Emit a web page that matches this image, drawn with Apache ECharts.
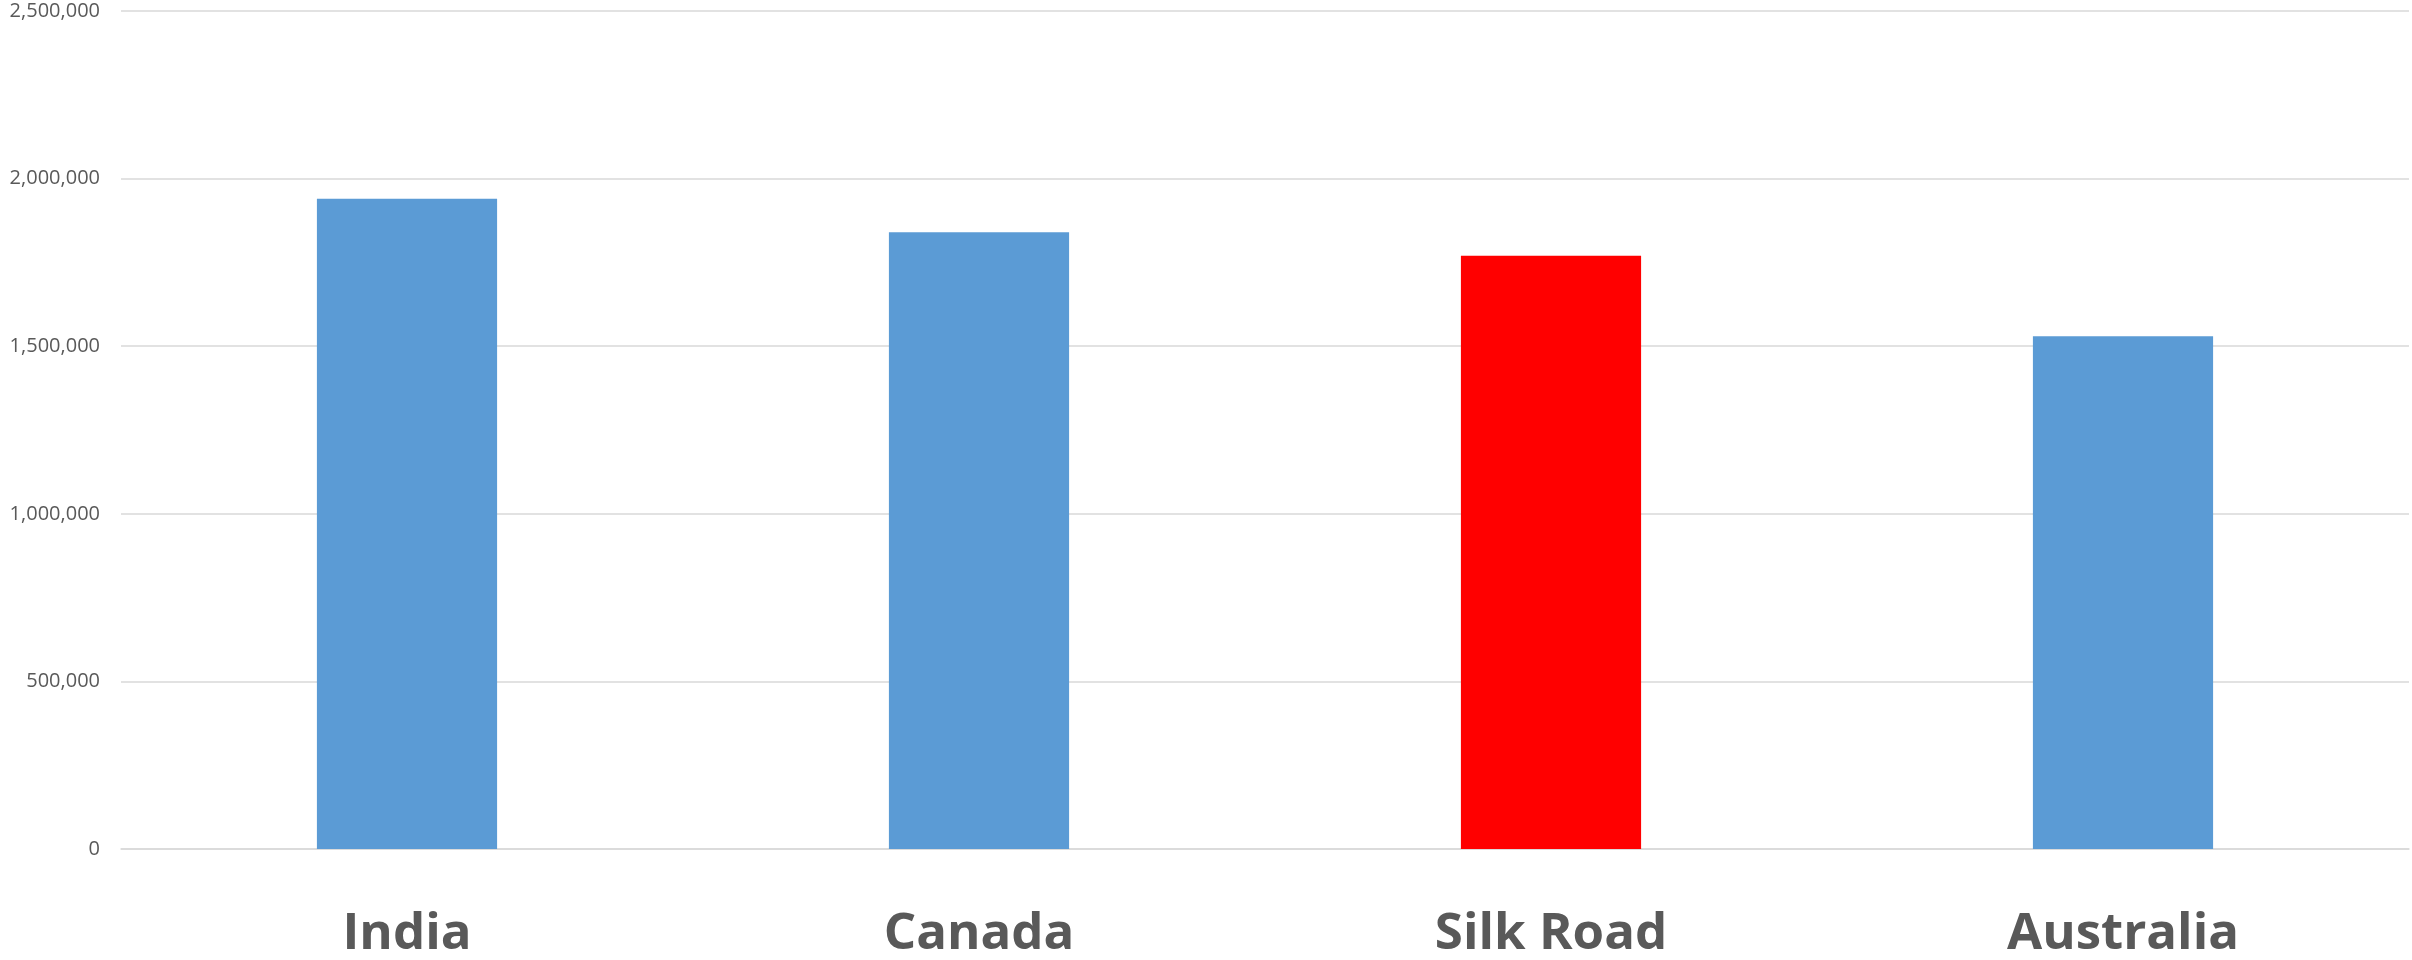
<!DOCTYPE html>
<html>
<head>
<meta charset="utf-8">
<script src="https://cdn.jsdelivr.net/npm/echarts@6/dist/echarts.min.js"></script>
<style>
html,body{margin:0;padding:0;background:#fff;}
#chart{width:2412px;height:960px;}
</style>
</head>
<body>
<div id="chart"></div>
<script>
const categories = ["India", "Canada", "Silk Road", "Australia"];
const values = [1940000, 1840000, 1770000, 1530000];
const barColors = ["#5b9bd5", "#5b9bd5", "#ff0000", "#5b9bd5"];
const yTicks = [0, 500000, 1000000, 1500000, 2000000, 2500000];

const chart = echarts.init(document.getElementById('chart'));
chart.setOption({
  animation: false,
  backgroundColor: '#ffffff',
  grid: { left: 121, right: 3, top: 11, bottom: 105, containLabel: false },
  xAxis: {
    type: 'category',
    data: categories,
    axisTick: { show: false },
    axisLine: { lineStyle: { color: '#d9d9d9', width: 1.5 } },
    axisLabel: {
      color: '#595959',
      fontFamily: 'Open Sans',
      fontWeight: 'bold',
      fontSize: 51,
      margin: 60
    }
  },
  yAxis: {
    type: 'value',
    min: yTicks[0],
    max: yTicks[yTicks.length - 1],
    interval: 500000,
    axisLine: { show: false },
    axisTick: { show: false },
    splitLine: { lineStyle: { color: '#d9d9d9', width: 1.5 } },
    axisLabel: {
      color: '#595959',
      fontFamily: 'Open Sans',
      fontSize: 20,
      margin: 21,
      formatter: v => v.toLocaleString('en-US')
    }
  },
  series: [{
    type: 'bar',
    data: values.map((v, i) => ({ value: v, itemStyle: { color: barColors[i] } })),
    barWidth: '31.5%'
  }]
});
</script>
</body>
</html>
